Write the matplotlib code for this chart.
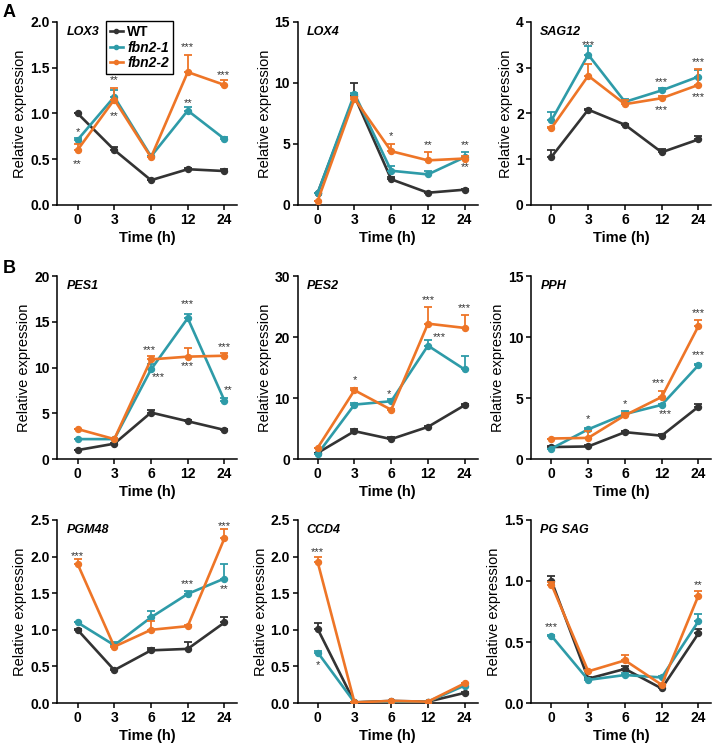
import matplotlib
matplotlib.use("Agg")
import matplotlib.pyplot as plt
from matplotlib.lines import Line2D

plt.rcParams["font.family"] = ["Liberation Sans", "DejaVu Sans"]

times = ["0", "3", "6", "12", "24"]
lines = ["WT", "fbn2-1", "fbn2-2"]
colors = ["#333333", "#2E9BA8", "#EE7527"]

# mean values, rows: WT, fbn2-1, fbn2-2
lox3 = [[1.0, 0.60, 0.27, 0.39, 0.37],
        [0.71, 1.18, 0.53, 1.03, 0.72],
        [0.60, 1.15, 0.52, 1.45, 1.31]]
lox3_err = [[0.0, 0.03, 0.0, 0.01, 0.02],
            [0.02, 0.07, 0.0, 0.04, 0.02],
            [0.07, 0.13, 0.0, 0.19, 0.05]]
lox4 = [[1.0, 8.9, 2.1, 1.0, 1.25],
        [1.0, 9.1, 2.8, 2.5, 3.9],
        [0.35, 8.7, 4.4, 3.65, 3.8]]
lox4_err = [[0.0, 1.1, 0.2, 0.05, 0.05],
            [0.0, 0.1, 0.4, 0.3, 0.4],
            [0.0, 0.1, 0.6, 0.7, 0.2]]
sag12 = [[1.05, 2.08, 1.75, 1.15, 1.43],
         [1.85, 3.28, 2.25, 2.50, 2.80],
         [1.68, 2.82, 2.20, 2.33, 2.62]]
sag12_err = [[0.15, 0.02, 0.02, 0.07, 0.08],
             [0.18, 0.18, 0.07, 0.05, 0.15],
             [0.02, 0.25, 0.1, 0.05, 0.35]]
pes1 = [[1.0, 1.7, 5.1, 4.15, 3.2],
        [2.2, 2.2, 9.8, 15.4, 6.4],
        [3.3, 2.2, 10.9, 11.2, 11.3]]
pes1_err = [[0.0, 0.1, 0.3, 0.1, 0.1],
            [0.0, 0.0, 0.6, 0.5, 0.3],
            [0.0, 0.1, 0.4, 0.9, 0.3]]
pes2 = [[1.05, 4.6, 3.3, 5.3, 8.85],
        [0.9, 8.95, 9.5, 18.6, 14.7],
        [1.9, 11.3, 8.1, 22.2, 21.5]]
pes2_err = [[0.0, 0.4, 0.4, 0.2, 0.2],
            [0.0, 0.2, 0.3, 1.0, 2.2],
            [0.0, 0.4, 0.2, 2.8, 2.1]]
pph = [[1.0, 1.05, 2.22, 1.93, 4.3],
       [0.88, 2.45, 3.7, 4.45, 7.7],
       [1.7, 1.75, 3.6, 5.1, 10.9]]
pph_err = [[0.1, 0.1, 0.1, 0.1, 0.2],
           [0.0, 0.1, 0.25, 0.1, 0.1],
           [0.0, 0.6, 0.2, 0.5, 0.5]]
pgm48 = [[1.0, 0.45, 0.72, 0.74, 1.10],
         [1.10, 0.79, 1.17, 1.49, 1.70],
         [1.90, 0.77, 1.0, 1.05, 2.25]]
pgm48_err = [[0.01, 0.01, 0.03, 0.09, 0.08],
             [0.01, 0.05, 0.09, 0.04, 0.20],
             [0.07, 0.01, 0.12, 0.02, 0.12]]
ccd4 = [[1.01, 0.01, 0.03, 0.02, 0.14],
        [0.69, 0.01, 0.02, 0.02, 0.24],
        [1.92, 0.01, 0.03, 0.02, 0.27]]
ccd4_err = [[0.08, 0.0, 0.0, 0.0, 0.01],
            [0.02, 0.0, 0.0, 0.0, 0.01],
            [0.07, 0.0, 0.0, 0.0, 0.01]]
pgsag = [[1.0, 0.20, 0.28, 0.12, 0.57],
         [0.55, 0.19, 0.23, 0.21, 0.67],
         [0.97, 0.26, 0.35, 0.15, 0.88]]
pgsag_err = [[0.04, 0.01, 0.02, 0.01, 0.04],
             [0.01, 0.01, 0.02, 0.01, 0.06],
             [0.02, 0.01, 0.04, 0.01, 0.04]]

# significance marks: (time index, y, text)
lox3_sig = [(0, 0.80, "*"), (0, 0.45, "**"), (1, 1.36, "**"), (1, 0.97, "**"),
            (3.0, 1.72, "***"), (3.0, 1.11, "**"), (3.98, 1.42, "***")]
lox4_sig = [(2, 5.6, "*"), (3, 4.9, "**"), (4, 4.9, "**"), (4, 3.1, "**")]
sag12_sig = [(1, 3.50, "***"), (3, 2.68, "***"), (3, 2.08, "***"),
             (4, 3.12, "***"), (4, 2.36, "***")]
pes1_sig = [(1.95, 11.9, "***"), (2.2, 9.0, "***"), (3, 16.9, "***"),
            (3, 10.2, "***"), (4, 12.2, "***"), (4.1, 7.6, "**")]
pes2_sig = [(1, 12.9, "*"), (1.95, 10.6, "*"), (3, 26.1, "***"),
            (3.3, 20.0, "***"), (4, 24.8, "***")]
pph_sig = [(1, 3.3, "*"), (2, 4.5, "*"), (2.9, 6.2, "***"), (3.1, 3.7, "***"),
           (4, 12.0, "***"), (4, 8.5, "***")]
pgm48_sig = [(0, 2.01, "***"), (3, 1.62, "***"), (4, 2.42, "***"), (4, 1.56, "**")]
ccd4_sig = [(0, 2.06, "***"), (0, 0.52, "*")]
pgsag_sig = [(0, 0.62, "***"), (4, 0.97, "**")]

panels = [
    ("LOX3", lox3, lox3_err, lox3_sig, 2.0, [0.0, 0.5, 1.0, 1.5, 2.0], "{:.1f}"),
    ("LOX4", lox4, lox4_err, lox4_sig, 15, [0, 5, 10, 15], "{:d}"),
    ("SAG12", sag12, sag12_err, sag12_sig, 4, [0, 1, 2, 3, 4], "{:d}"),
    ("PES1", pes1, pes1_err, pes1_sig, 20, [0, 5, 10, 15, 20], "{:d}"),
    ("PES2", pes2, pes2_err, pes2_sig, 30, [0, 10, 20, 30], "{:d}"),
    ("PPH", pph, pph_err, pph_sig, 15, [0, 5, 10, 15], "{:d}"),
    ("PGM48", pgm48, pgm48_err, pgm48_sig, 2.5, [0.0, 0.5, 1.0, 1.5, 2.0, 2.5], "{:.1f}"),
    ("CCD4", ccd4, ccd4_err, ccd4_sig, 2.5, [0.0, 0.5, 1.0, 1.5, 2.0, 2.5], "{:.1f}"),
    ("PG SAG", pgsag, pgsag_err, pgsag_sig, 1.5, [0.0, 0.5, 1.0, 1.5], "{:.1f}"),
]

fig = plt.figure(figsize=(7.17, 7.48), dpi=100)
lefts = [0.080, 0.415, 0.741]
bottoms = [0.726, 0.386, 0.060]
w, h = 0.251, 0.245

x = list(range(len(times)))
for i, (name, mean, err, sig, ymax, yticks, fmt) in enumerate(panels):
    ax = fig.add_axes([lefts[i % 3], bottoms[i // 3], w, h])
    for k in range(3):
        ax.errorbar(x, mean[k], yerr=[[0] * 5, err[k]], color=colors[k],
                    lw=1.9, marker="o", ms=4.3, capsize=3, capthick=1.3,
                    elinewidth=1.3, zorder=3 + k)
    for xi, yi, s in sig:
        ax.text(xi, yi, s, ha="center", va="center", fontsize=8,
                color="#333333")
    ax.set_xlim(-0.55, 4.35)
    ax.set_ylim(0, ymax)
    ax.set_xticks(x)
    ax.set_xticklabels(times)
    ax.set_yticks(yticks)
    ax.set_yticklabels([fmt.format(t) for t in yticks])
    for t in ax.get_xticklabels() + ax.get_yticklabels():
        t.set_fontweight("bold")
        t.set_fontsize(10)
    ax.spines["top"].set_visible(False)
    ax.spines["right"].set_visible(False)
    ax.spines["left"].set_linewidth(1.1)
    ax.spines["bottom"].set_linewidth(1.1)
    ax.tick_params(width=1.1, length=3.5, pad=2)
    ax.set_ylabel("Relative expression", fontsize=10.5, labelpad=2)
    ax.set_xlabel("Time (h)", fontsize=10.5, fontweight="bold", labelpad=3)
    ax.text(0.05, 0.945, name, transform=ax.transAxes, fontsize=9,
            fontweight="bold", fontstyle="italic", ha="left", va="center")
    if i == 0:
        handles = [Line2D([0], [0], color=colors[k], lw=1.9, marker="o",
                          ms=3) for k in range(3)]
        leg = ax.legend(handles, lines, loc="upper left",
                        bbox_to_anchor=(0.27, 1.005), handlelength=0.9,
                        handletextpad=0.35, borderpad=0.3, labelspacing=0.12,
                        borderaxespad=0.0, fancybox=False, edgecolor="black",
                        framealpha=1, fontsize=10)
        leg.get_frame().set_linewidth(1.0)
        for j, t in enumerate(leg.get_texts()):
            t.set_fontweight("bold")
            if j > 0:
                t.set_fontstyle("italic")

fig.text(0.004, 0.995, "A", fontsize=13, fontweight="bold", va="top")
fig.text(0.004, 0.652, "B", fontsize=13, fontweight="bold", va="top")

fig.savefig("out.png", dpi=100)
